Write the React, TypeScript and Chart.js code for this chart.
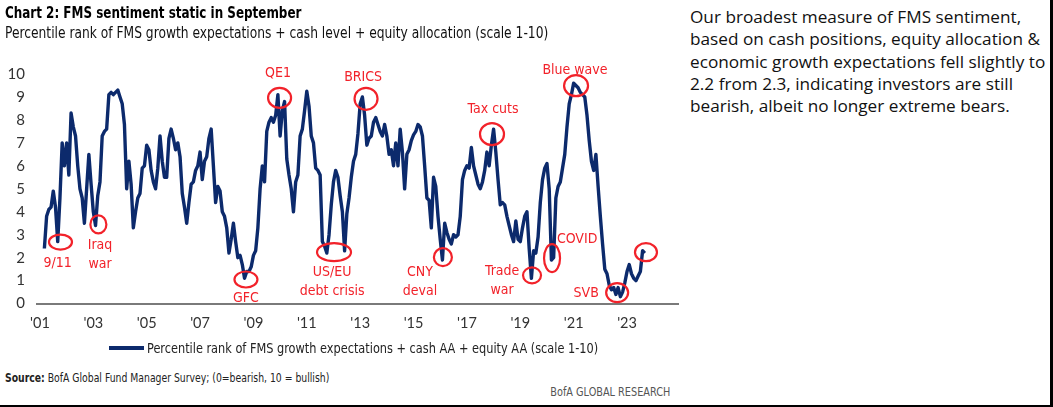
import React, { useEffect, useRef } from "react";
import { Chart, registerables } from "chart.js";

Chart.register(...registerables);

// ---- data: monthly FMS sentiment composite (0 = bearish, 10 = bullish) ----
const FIRST_YEAR = 2001;
const FIRST_MONTH_INDEX = 2; // series starts March 2001

const s2001 = [2.4, 3.8, 4.1, 4.2, 4.9, 4.2, 2.7, 4.6, 7.0, 6.0];
const s2002 = [7.0, 5.6, 8.3, 7.7, 7.3, 6.0, 5.0, 4.6, 3.5, 5.0, 6.5, 5.2];
const s2003 = [4.0, 3.4, 4.7, 5.3, 7.3, 7.5, 7.6, 9.1, 9.2, 9.1, 9.2, 9.3];
const s2004 = [9.0, 8.7, 7.8, 5.0, 6.2, 5.2, 3.3, 4.0, 4.6, 4.8, 5.9, 6.0];
const s2005 = [6.9, 6.7, 5.8, 5.3, 5.0, 5.9, 7.3, 6.2, 5.5, 5.5, 7.2, 7.6];
const s2006 = [7.2, 6.7, 7.0, 6.4, 4.8, 4.2, 3.5, 4.4, 5.2, 5.3, 5.8, 6.0];
const s2007 = [6.6, 5.4, 6.2, 6.4, 7.2, 7.6, 6.0, 4.4, 5.1, 4.9, 4.0, 3.8];
const s2008 = [3.3, 2.2, 2.8, 3.5, 2.7, 2.0, 2.1, 1.7, 1.1, 1.4, 1.4, 1.6];
const s2009 = [2.1, 2.3, 3.3, 5.0, 6.0, 5.3, 7.5, 7.9, 8.1, 7.9, 8.2, 9.1];
const s2010 = [7.3, 8.4, 8.8, 6.3, 5.6, 5.0, 4.0, 5.3, 5.6, 7.3, 7.6, 8.4];
const s2011 = [9.25, 8.6, 7.3, 7.0, 5.9, 5.8, 5.6, 2.7, 2.5, 2.2, 3.0, 4.3];
const s2012 = [5.3, 5.8, 5.5, 4.7, 4.0, 2.3, 3.9, 4.6, 5.5, 6.2, 6.5, 7.4];
const s2013 = [8.7, 9.0, 8.2, 6.9, 7.2, 7.3, 7.9, 8.1, 7.8, 7.5, 7.3, 7.8];
const s2014 = [7.3, 6.5, 6.7, 6.0, 7.0, 6.0, 7.6, 6.6, 5.0, 6.5, 6.7, 7.1];
const s2015 = [7.35, 7.5, 7.8, 7.7, 7.3, 6.0, 4.6, 4.5, 3.3, 5.5, 5.1, 3.8];
const s2016 = [2.8, 1.9, 3.5, 3.1, 2.8, 2.6, 3.0, 2.9, 3.0, 3.8, 5.4, 5.8];
const s2017 = [6.0, 5.9, 6.8, 6.0, 5.6, 5.2, 5.0, 5.3, 5.8, 6.6, 6.0, 6.9];
const s2018 = [7.6, 6.6, 5.4, 4.3, 4.4, 4.3, 3.8, 3.4, 3.0, 2.7, 3.6, 2.8];
const s2019 = [2.7, 3.3, 3.8, 4.0, 2.4, 1.1, 2.3, 2.2, 2.9, 4.4, 5.4, 5.9];
const s2020 = [6.1, 5.0, 1.9, 2.0, 4.6, 5.1, 5.3, 5.9, 6.5, 7.7, 8.7, 9.1];
const s2021 = [9.6, 9.5, 9.4, 9.2, 9.1, 9.0, 8.2, 7.1, 6.2, 5.8, 6.5, 5.1];
const s2022 = [3.8, 2.6, 1.5, 1.3, 0.8, 0.6, 0.7, 0.4, 0.7, 0.3, 0.5, 0.9];
const s2023 = [1.4, 1.7, 1.3, 1.1, 1.0, 1.2, 1.4, 2.3, 2.2];

const sentiment = [
  ...s2001, ...s2002, ...s2003, ...s2004, ...s2005, ...s2006, ...s2007, ...s2008,
  ...s2009, ...s2010, ...s2011, ...s2012, ...s2013, ...s2014, ...s2015, ...s2016,
  ...s2017, ...s2018, ...s2019, ...s2020, ...s2021, ...s2022, ...s2023,
];

const tickYears = [2001, 2003, 2005, 2007, 2009, 2011, 2013, 2015, 2017, 2019, 2021, 2023];
const yTicks = [0, 1, 2, 3, 4, 5, 6, 7, 8, 9, 10];

const seriesLabel = "Percentile rank of FMS growth expectations + cash AA + equity AA (scale 1-10)";

// event markers (circle centre in data units: year, value)
const eventNames = ["9/11", "Iraq\nwar", "GFC", "QE1", "US/EU\ndebt crisis", "BRICS", "CNY\ndeval", "Tax cuts", "Trade\nwar", "COVID", "Blue wave", "SVB", ""];
const eventX = [2001.77, 2003.19, 2008.72, 2009.98, 2012.02, 2013.22, 2016.1, 2017.94, 2019.44, 2020.19, 2021.09, 2022.63, 2023.71];
const eventY = [2.68, 3.45, 1.05, 8.96, 2.24, 8.92, 2.02, 7.38, 1.23, 1.98, 9.49, 0.48, 2.24];

// layout of the markers: ellipse radii (px) and label anchor (data units)
const eventLayout = [
  { rx: 11.5, ry: 7.5, tx: 2001.66, ty: 1.76 },
  { rx: 8, ry: 9, tx: 2003.25, ty: 2.55 },
  { rx: 11.5, ry: 8, tx: 2008.72, ty: 0.22 },
  { rx: 11.5, ry: 10, tx: 2009.92, ty: 10.01 },
  { rx: 17, ry: 9, tx: 2011.95, ty: 1.36 },
  { rx: 11.5, ry: 11, tx: 2013.11, ty: 9.84 },
  { rx: 9, ry: 9, tx: 2015.24, ty: 1.36 },
  { rx: 12, ry: 11, tx: 2017.98, ty: 8.48 },
  { rx: 9, ry: 8, tx: 2018.32, ty: 1.41 },
  { rx: 8, ry: 14, tx: 2021.13, ty: 2.81 },
  { rx: 12, ry: 10.5, tx: 2021.05, ty: 10.14 },
  { rx: 11, ry: 9.5, tx: 2021.47, ty: 0.44 },
  { rx: 11, ry: 9, tx: 2023.71, ty: 2.24 },
];

const NAVY = "#0c2a6c";
const RED = "#f2222a";
const NARROW = "'Liberation Sans Narrow', 'DejaVu Sans Condensed', 'Arial Narrow', sans-serif";
const HUMAN = "Lato, 'Open Sans', sans-serif";
const BODY = "'Open Sans', 'Noto Sans', sans-serif";

const eventPlugin = {
  id: "eventMarkers",
  afterDatasetsDraw(chart: any) {
    const { ctx, scales } = chart;
    const xs = scales.x;
    const ys = scales.y;
    ctx.save();
    ctx.strokeStyle = RED;
    ctx.lineWidth = 2.2;
    ctx.fillStyle = RED;
    ctx.font = `14px ${NARROW}`;
    ctx.textAlign = "center";
    ctx.textBaseline = "middle";
    eventNames.forEach((name, i) => {
      const lay = eventLayout[i];
      const cx = xs.getPixelForValue(eventX[i]);
      const cy = ys.getPixelForValue(eventY[i]);
      ctx.beginPath();
      ctx.ellipse(cx, cy, lay.rx, lay.ry, 0, 0, Math.PI * 2);
      ctx.stroke();
      if (name) {
        const tx = xs.getPixelForValue(lay.tx);
        const ty = ys.getPixelForValue(lay.ty);
        name.split("\n").forEach((line, k) => ctx.fillText(line, tx, ty + k * 19));
      }
    });
    ctx.restore();
  },
};

export default function App() {
  const canvasRef = useRef<HTMLCanvasElement | null>(null);

  useEffect(() => {
    const canvas = canvasRef.current;
    if (!canvas) return;
    const points = sentiment.map((v, i) => ({ x: FIRST_YEAR + (FIRST_MONTH_INDEX + i) / 12, y: v }));
    const chart = new Chart(canvas, {
      type: "line",
      data: {
        datasets: [
          {
            label: seriesLabel,
            data: points,
            borderColor: NAVY,
            backgroundColor: NAVY,
            borderWidth: 3.4,
            pointRadius: 0,
            tension: 0,
            borderJoinStyle: "round",
          },
        ],
      },
      options: {
        animation: false,
        responsive: false,
        maintainAspectRatio: false,
        layout: { padding: { top: 74, right: 12, left: 0, bottom: 3 } },
        plugins: {
          tooltip: { enabled: false },
          legend: { display: false },
        },
        scales: {
          x: {
            type: "linear",
            min: 2000.89,
            max: 2024.91,
            grid: { display: false, drawTicks: false },
            border: { display: true, color: "#7a7a7a", width: 2 },
            afterBuildTicks: (scale: any) => {
              scale.ticks = tickYears.map((v) => ({ value: v }));
            },
            ticks: {
              padding: 11,
              color: "#333",
              font: { family: HUMAN, size: 14.5 },
              maxRotation: 0,
              autoSkip: false,
              callback: (v: any) => "'" + String(Number(v) % 100).padStart(2, "0"),
            },
          },
          y: {
            min: 0,
            max: 10,
            grid: { display: false, drawTicks: false },
            border: { display: false },
            afterBuildTicks: (scale: any) => {
              scale.ticks = yTicks.map((v) => ({ value: v }));
            },
            afterFit: (scale: any) => {
              scale.width = 37;
            },
            ticks: {
              padding: 12,
              color: "#333",
              font: { family: HUMAN, size: 15 },
            },
          },
        },
      },
      plugins: [eventPlugin],
    } as any);
    return () => chart.destroy();
  }, []);

  const rightLines = [
    "Our broadest measure of FMS sentiment,",
    "based on cash positions, equity allocation &",
    "economic growth expectations fell slightly to",
    "2.2 from 2.3, indicating investors are still",
    "bearish, albeit no longer extreme bears.",
  ];

  const squeeze = (k: number, origin = "left center") => ({
    transform: `scaleX(${k})`,
    transformOrigin: origin,
  });

  return (
    <div
      style={{
        position: "fixed",
        left: 0,
        top: 0,
        width: 1053,
        height: 407,
        background: "#fff",
        overflow: "hidden",
        boxSizing: "border-box",
        borderRight: "3px solid #000",
        borderBottom: "2px solid #000",
      }}
    >
      <canvas
        ref={canvasRef}
        width={690}
        height={346}
        style={{ position: "absolute", left: 0, top: 0, width: 690, height: 346 }}
      />
      <div
        style={{
          position: "absolute",
          left: 5,
          top: 3,
          fontFamily: NARROW,
          fontWeight: "bold",
          fontSize: 16,
          color: "#000",
          whiteSpace: "nowrap",
          ...squeeze(0.83),
        }}
      >
        Chart 2: FMS sentiment static in September
      </div>
      <div
        style={{
          position: "absolute",
          left: 5,
          top: 24,
          fontFamily: NARROW,
          fontSize: 15,
          color: "#111",
          whiteSpace: "nowrap",
          ...squeeze(0.91),
        }}
      >
        Percentile rank of FMS growth expectations + cash level + equity allocation (scale 1-10)
      </div>
      <div
        style={{
          position: "absolute",
          left: 109,
          top: 339,
          height: 18,
          display: "flex",
          alignItems: "center",
          whiteSpace: "nowrap",
        }}
      >
        <span style={{ display: "inline-block", width: 35, height: 3.5, background: NAVY }} />
        <span
          style={{
            marginLeft: 3,
            fontFamily: NARROW,
            fontSize: 14,
            color: "#222",
            display: "inline-block",
            ...squeeze(0.9),
          }}
        >
          {seriesLabel}
        </span>
      </div>
      <div
        style={{
          position: "absolute",
          left: 5,
          top: 371,
          fontFamily: NARROW,
          fontSize: 12,
          color: "#222",
          whiteSpace: "nowrap",
          ...squeeze(0.86),
        }}
      >
        <b>Source:</b> BofA Global Fund Manager Survey; (0=bearish, 10 = bullish)
      </div>
      <div
        style={{
          position: "absolute",
          right: 380,
          top: 385,
          fontFamily: NARROW,
          fontSize: 12,
          color: "#555",
          whiteSpace: "nowrap",
          ...squeeze(0.9, "right center"),
        }}
      >
        BofA GLOBAL RESEARCH
      </div>
      <div
        style={{
          position: "absolute",
          left: 690,
          top: 6,
          fontFamily: BODY,
          fontSize: 17.2,
          lineHeight: "22.3px",
          color: "#111",
          whiteSpace: "nowrap",
        }}
      >
        {rightLines.map((l, i) => (
          <div key={i}>{l}</div>
        ))}
      </div>
    </div>
  );
}
